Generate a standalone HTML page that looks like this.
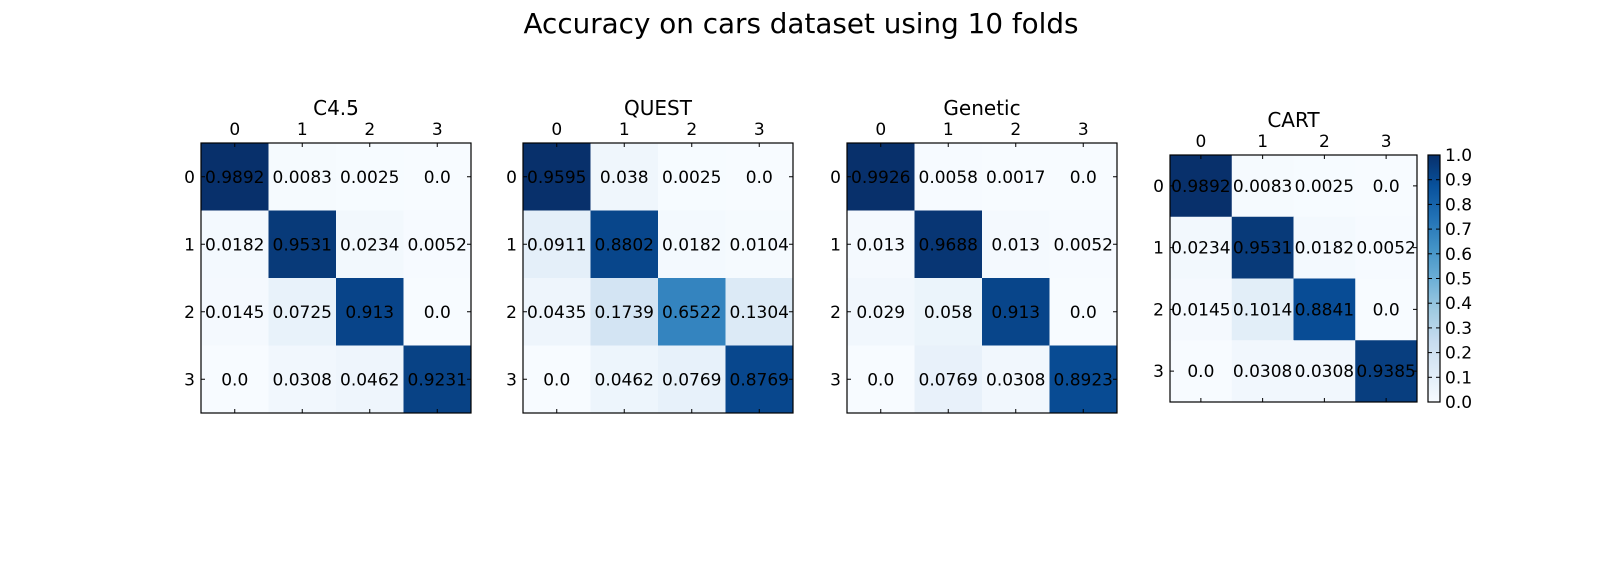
<!DOCTYPE html>
<html><head><meta charset="utf-8"><style>
body{margin:0;background:#fff;}
svg text{font-family:"DejaVu Sans","Liberation Sans",sans-serif;fill:#000;}
</style></head><body>
<svg id="fig" width="1600" height="557" viewBox="0 0 1600 557">
<rect width="1600" height="557" fill="#fff"/>
<text x="801" y="33" font-size="27.8" text-anchor="middle">Accuracy on cars dataset using 10 folds</text>
</svg>
<script>
const panelTitles=["C4.5","QUEST","Genetic","CART"];
const classLabels=["0","1","2","3"];
const m_c45=[[0.9892,0.0083,0.0025,0.0],[0.0182,0.9531,0.0234,0.0052],[0.0145,0.0725,0.913,0.0],[0.0,0.0308,0.0462,0.9231]];
const m_quest=[[0.9595,0.038,0.0025,0.0],[0.0911,0.8802,0.0182,0.0104],[0.0435,0.1739,0.6522,0.1304],[0.0,0.0462,0.0769,0.8769]];
const m_genetic=[[0.9926,0.0058,0.0017,0.0],[0.013,0.9688,0.013,0.0052],[0.029,0.058,0.913,0.0],[0.0,0.0769,0.0308,0.8923]];
const m_cart=[[0.9892,0.0083,0.0025,0.0],[0.0234,0.9531,0.0182,0.0052],[0.0145,0.1014,0.8841,0.0],[0.0,0.0308,0.0308,0.9385]];
const colorbarTicks=["0.0","0.1","0.2","0.3","0.4","0.5","0.6","0.7","0.8","0.9","1.0"];
const matrices=[m_c45,m_quest,m_genetic,m_cart];

const NS="http://www.w3.org/2000/svg";
const svg=document.getElementById('fig');
const stops=["#f7fbff","#deebf7","#c6dbef","#9ecae1","#6baed6","#4292c6","#2171b5","#08519c","#08306b"];
function hex(h){return [1,3,5].map(i=>parseInt(h.substr(i,2),16));}
function blues(t){t=Math.max(0,Math.min(1,t));const p=t*8;const i=Math.min(7,Math.floor(p));const f=p-i;const a=hex(stops[i]),b=hex(stops[i+1]);return `rgb(${a.map((v,k)=>Math.round(v+(b[k]-v)*f)).join(',')})`;}
function mk(tag,attrs,parent){const e=document.createElementNS(NS,tag);for(const k in attrs)e.setAttribute(k,attrs[k]);(parent||svg).appendChild(e);return e;}
const layouts=[{x:201,y:143,s:270},{x:523,y:143,s:270},{x:847,y:143,s:270},{x:1170,y:155,s:247}];
matrices.forEach((m,pi)=>{
  const L=layouts[pi];const n=m.length;const c=L.s/n;
  const g=mk('g',{});
  
  
  let mx=0;m.forEach(r=>r.forEach(v=>{if(v>mx)mx=v;}));
  let mn=Infinity;m.forEach(r=>r.forEach(v=>{if(v<mn)mn=v;}));
  const sx=j=>L.x+j*c, sy=i=>L.y+i*c;
  m.forEach((row,i)=>row.forEach((v,j)=>{
    const r=mk('rect',{x:sx(j),y:sy(i),width:c+0.5,height:c+0.5,fill:blues((v-mn)/(mx-mn))},g);
    
    
  }));
  m.forEach((row,i)=>row.forEach((v,j)=>{
    const t=mk('text',{x:sx(j)+c/2,y:sy(i)+c/2+6,'font-size':17,'text-anchor':'middle'},g);
    t.textContent=String(v===0?"0.0":v);
    
    
  }));
  mk('rect',{x:L.x,y:L.y,width:L.s,height:L.s,fill:'none',stroke:'#000','stroke-width':1.2},g);
  for(let k=0;k<n;k++){
    const px=sx(k)+c/2, py=sy(k)+c/2;
    mk('line',{x1:px,y1:L.y,x2:px,y2:L.y+4,stroke:'#000'},g);
    mk('line',{x1:px,y1:L.y+L.s,x2:px,y2:L.y+L.s-4,stroke:'#000'},g);
    mk('line',{x1:L.x,y1:py,x2:L.x+4,y2:py,stroke:'#000'},g);
    mk('line',{x1:L.x+L.s,y1:py,x2:L.x+L.s-4,y2:py,stroke:'#000'},g);
    const tx=mk('text',{x:px,y:L.y-8,'font-size':17,'text-anchor':'middle'},g);
    tx.textContent=classLabels[k];
    
    
    const ty=mk('text',{x:L.x-6,y:py+6,'font-size':17,'text-anchor':'end'},g);
    ty.textContent=classLabels[k];
    
    
  }
  const tt=mk('text',{x:L.x+L.s/2,y:L.y-28,'font-size':20,'text-anchor':'middle'},g);
  tt.textContent=panelTitles[pi];
  
  
});
// colorbar
const cb={x:1428,y:155,w:12,h:247};
const cg=mk('g',{});


const grad=mk('linearGradient',{id:'cbg',x1:0,y1:1,x2:0,y2:0},mk('defs',{}));
stops.forEach((s,i)=>mk('stop',{offset:i/8,'stop-color':s},grad));
mk('rect',{x:cb.x,y:cb.y,width:cb.w,height:cb.h,fill:'url(#cbg)',stroke:'#000','stroke-width':1.2},cg);
colorbarTicks.forEach((lab,i)=>{
  const v=parseFloat(lab);const y=cb.y+cb.h-v*cb.h;
  mk('line',{x1:cb.x+cb.w,y1:y,x2:cb.x+cb.w-4,y2:y,stroke:'#000'},cg);
  mk('line',{x1:cb.x,y1:y,x2:cb.x+4,y2:y,stroke:'#000'},cg);
  const t=mk('text',{x:cb.x+cb.w+5,y:y+6,'font-size':17},cg);
  t.textContent=lab;
  
  
});
</script>
</body></html>
